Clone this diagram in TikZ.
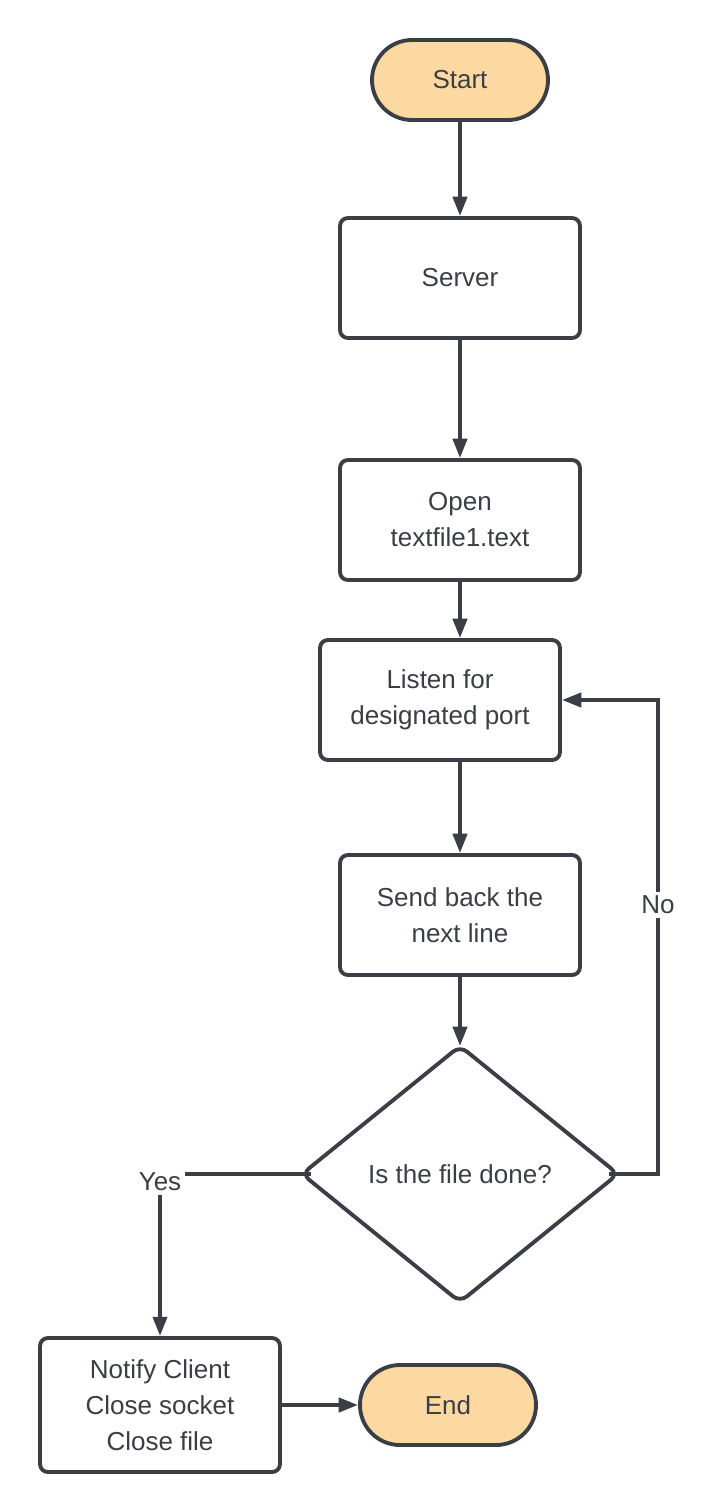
\documentclass[tikz,border=0pt]{standalone}
\usepackage{fontspec}
\setmainfont{Liberation Sans}
\usetikzlibrary{shapes.geometric, arrows.meta}
\definecolor{ink}{HTML}{3B3E44}
\definecolor{peach}{HTML}{FDD9A2}

\begin{document}
\begin{tikzpicture}[line width=2.2pt, draw=ink, text=ink,
    font=\fontsize{14.8}{20.5}\selectfont,
    >={Triangle[length=11pt, width=8pt]},
    box/.style={draw=ink, rectangle, rounded corners=4.5pt, minimum width=4.8cm, minimum height=2.4cm, align=center, fill=white},
    pill/.style={draw=ink, rectangle, rounded corners=0.8cm, minimum width=3.52cm, minimum height=1.6cm, fill=peach},
    check/.style={draw=ink, diamond, rounded corners=5pt, inner sep=0pt, outer sep=0pt, minimum width=6.32cm, minimum height=5.12cm, fill=white},
    flow/.style={->, draw=ink}]
    \useasboundingbox (0,0) rectangle (14.3,-30.24);
    \node[pill] (start) at (9.2,-1.6) {Start};
    \node[box] (server) at (9.2,-5.56) {Server};
    \node[box] (open) at (9.2,-10.4) {Open\\textfile1.text};
    \node[box] (listen) at (8.8,-14.0) {Listen for\\designated port};
    \node[box] (send) at (9.2,-18.3) {Send back the\\next line};
    \node[check] (done) at (9.2,-23.48) {Is the file done?};
    \node[box, minimum height=2.68cm] (notify) at (3.2,-28.1) {Notify Client\\Close socket\\Close file};
    \node[pill] (end) at (8.96,-28.1) {End};
    \draw[flow] (start) -- (server);
    \draw[flow] (server) -- (open);
    \draw[flow] (open.south) -- (open.south |- listen.north);
    \draw[flow] (listen.south -| send.north) -- (send.north);
    \draw[flow] (send) -- (done.north);
    \draw[flow] ([xshift=-5pt]done.east) -- ++(0.98,0) coordinate (loop) |- (listen.east);
    \draw[flow] ([xshift=5pt]done.west) -| (notify.north);
    \draw[flow] (notify) -- (end);
    \node[fill=white, inner sep=2pt] (no) at (13.16,-18.1) {No};
    \node[fill=white, inner sep=2pt] (yes) at (3.2,-23.64) {Yes};
\end{tikzpicture}
\end{document}
